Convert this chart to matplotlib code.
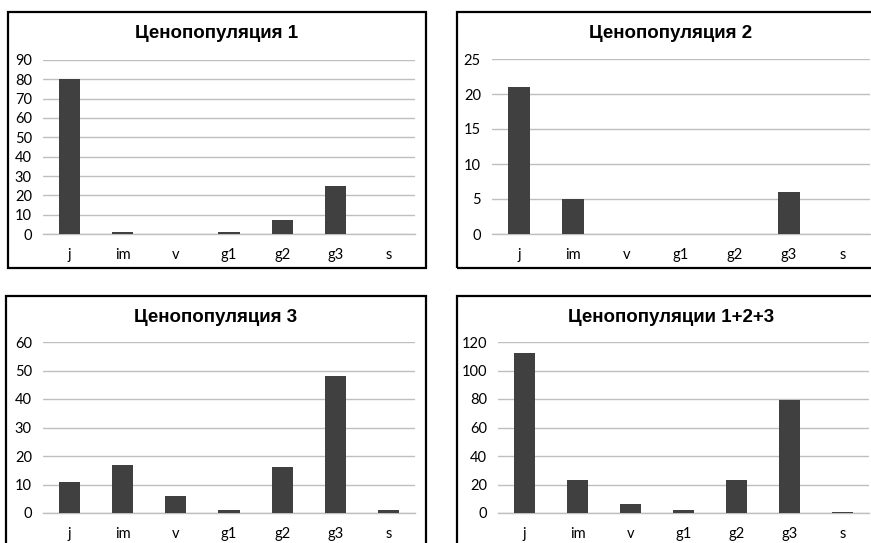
import numpy as np
import matplotlib
matplotlib.use('Agg')
import matplotlib.pyplot as plt
from matplotlib.patches import Rectangle

# Data
STAGES = ['j', 'im', 'v', 'g1', 'g2', 'g3', 's']
POP1 = [80, 1, 0, 1, 7, 25, 0]
POP2 = [21, 5, 0, 0, 0, 6, 0]
POP3 = [11, 17, 6, 1, 16, 48, 1]
POP_ALL = [112, 23, 6, 2, 23, 79, 1]
TITLES = ['Ценопопуляция 1', 'Ценопопуляция 2', 'Ценопопуляция 3', 'Ценопопуляции 1+2+3']
YMAX = [90, 25, 60, 120]
YSTEP = [10, 5, 10, 20]

W, H = 871, 543
BAR_COLOR = '#404040'
GRID_COLOR = '#bfbfbf'

fig = plt.figure(figsize=(W / 100, H / 100), dpi=100)
fig.patch.set_facecolor('white')


def fig_rect(x0, y0, x1, y1):
    """Pixel box (top-left origin) -> figure fraction [left, bottom, width, height]."""
    return [x0 / W, 1 - y1 / H, (x1 - x0) / W, (y1 - y0) / H]


# panel borders (px) and plot areas (px)
borders = [(8, 12, 426, 268), (457, 12, 885, 268),
           (6, 296, 426, 560), (457, 296, 885, 560)]
plot_areas = [(43, 60, 415, 234), (492, 59, 870, 234),
              (43, 342, 415, 513), (498, 342, 869, 513)]
title_y = [33, 33, 318, 318]
series = [POP1, POP2, POP3, POP_ALL]

for i in range(4):
    bx0, by0, bx1, by1 = borders[i]
    fig.patches.append(Rectangle((bx0 / W, 1 - by1 / H), (bx1 - bx0) / W, (by1 - by0) / H,
                                 transform=fig.transFigure, fill=False,
                                 edgecolor='black', linewidth=1.6, clip_on=False))
    fig.text((bx0 + bx1) / 2 / W, 1 - title_y[i] / H, TITLES[i],
             ha='center', va='center', fontsize=13.5, fontweight='bold',
             family='Liberation Sans')

    ax = fig.add_axes(fig_rect(*plot_areas[i]))
    x = np.arange(len(STAGES))
    ax.bar(x, series[i], width=0.4, color=BAR_COLOR, zorder=3)
    ax.set_xlim(-0.5, len(STAGES) - 0.5)
    ax.set_ylim(0, YMAX[i])
    ax.set_yticks(np.arange(0, YMAX[i] + 1, YSTEP[i]))
    ax.set_xticks(x)
    ax.set_xticklabels(STAGES)
    for side in ['top', 'right', 'left']:
        ax.spines[side].set_visible(False)
    ax.spines['bottom'].set_color(GRID_COLOR)
    ax.spines['bottom'].set_linewidth(1.0)
    ax.grid(axis='y', color=GRID_COLOR, linewidth=1.0, zorder=0)
    ax.set_axisbelow(True)
    ax.tick_params(axis='both', length=0, labelsize=10.5, colors='black')
    ax.tick_params(axis='y', pad=8)
    ax.tick_params(axis='x', pad=10)
    for lbl in ax.get_xticklabels() + ax.get_yticklabels():
        lbl.set_family('Lato')

fig.savefig('out.png', dpi=100)
